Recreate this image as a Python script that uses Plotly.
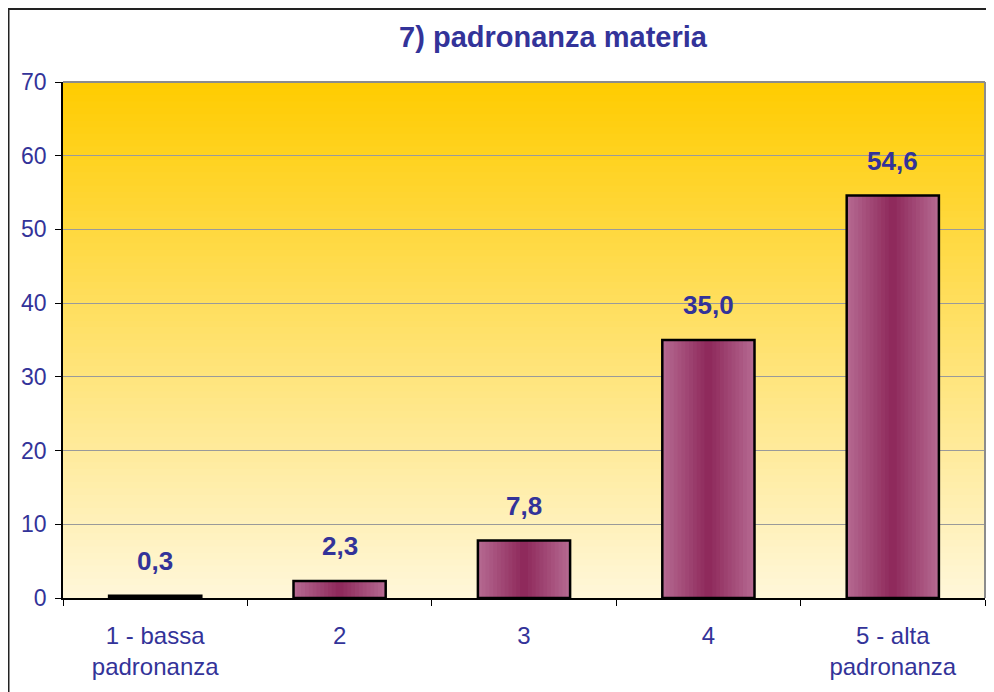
import plotly.graph_objects as go

categories = ["1 - bassa<br>padronanza", "2", "3", "4", "5 - alta<br>padronanza"]
values = [0.3, 2.3, 7.8, 35.0, 54.6]
y_ticks = [0, 10, 20, 30, 40, 50, 60, 70]
title_text = "7) padronanza materia"

TEXT = "#333399"
FONT = "Liberation Sans, Arial, sans-serif"
# page has an 8px body margin, so the figure is sized/positioned to compensate
W, H = 986, 684
L, R, T, B = 55, 9, 74, 94
PW, PH = W - L - R, H - T - B


def lerp(c1, c2, t):
    return "rgb(%d,%d,%d)" % tuple(round(a + (b - a) * t) for a, b in zip(c1, c2))


def px_x(px):
    return (px - L) / PW


def px_y(py):
    return (H - B - py) / PH


fig = go.Figure()

# cylinder-like horizontal gradient on bars: stacked overlay layers
light = (180, 104, 144)
dark = (143, 42, 92)
N = 12
bar_w = 0.5
for k in range(N):
    t = k / (N - 1)
    fig.add_trace(go.Bar(
        x=categories, y=values,
        width=bar_w * (1 - k / N),
        marker=dict(color=lerp(light, dark, t), line=dict(width=0)),
        hoverinfo="skip", showlegend=False,
    ))
# outline
fig.add_trace(go.Bar(
    x=categories, y=values, width=bar_w,
    marker=dict(color="rgba(0,0,0,0)", line=dict(color="black", width=2.5)),
    hoverinfo="skip", showlegend=False,
))

# value labels
for i, v in enumerate(values):
    fig.add_annotation(
        x=i, y=v, text=f"{v:.1f}".replace(".", ","),
        showarrow=False, yanchor="bottom", yshift=18,
        font=dict(family=FONT, size=26, color=TEXT, weight="bold"),
    )

# background gradient (bottom cream -> top gold)
shapes = []
bottom = (255, 247, 218)
top = (255, 204, 0)
S = 80
for i in range(S):
    shapes.append(dict(
        type="rect", xref="paper", yref="paper",
        x0=0, x1=1, y0=i / S, y1=(i + 1) / S + 0.002,
        fillcolor=lerp(bottom, top, (i + 0.5) / S),
        line=dict(width=0), layer="below",
    ))
# plot area right/top border (gray)
shapes.append(dict(type="line", xref="paper", yref="paper", x0=1, x1=1, y0=0, y1=1,
                   line=dict(color="#8C8C8C", width=2), layer="above"))
shapes.append(dict(type="line", xref="paper", yref="paper", x0=0, x1=1, y0=1, y1=1,
                   line=dict(color="#8C8C8C", width=2), layer="above"))
# outer chart border
shapes.append(dict(type="rect", xref="paper", yref="paper",
                   x0=px_x(0.5), x1=px_x(W + 20),
                   y0=px_y(H + 20), y1=px_y(1),
                   line=dict(color="#222222", width=2), fillcolor="rgba(0,0,0,0)",
                   layer="above"))

fig.update_layout(
    width=W, height=H,
    margin=dict(l=L, r=R, t=T, b=B, autoexpand=False),
    paper_bgcolor="white", plot_bgcolor="rgba(0,0,0,0)",
    barmode="overlay", bargap=0.5,
    shapes=shapes,
    title=dict(text=title_text, x=545 / W, xref="container", xanchor="center",
               y=1 - 29 / H, yref="container", yanchor="middle", automargin=False,
               font=dict(family=FONT, size=29, color=TEXT, weight="bold")),
    font=dict(family=FONT, color=TEXT),
    showlegend=False,
)
fig.update_yaxes(
    range=[0, 70], tickvals=y_ticks, ticks="outside", ticklen=6, tickcolor="black",
    showline=True, linecolor="black", linewidth=1.5,
    showgrid=True, gridcolor="#9A9A9A", gridwidth=1,
    tickfont=dict(family=FONT, size=23, color=TEXT),
    ticklabelstandoff=4, zeroline=False, fixedrange=True, automargin=False,
)
fig.update_xaxes(
    ticks="outside", ticklen=6, tickcolor="black", tickson="boundaries",
    showline=True, linecolor="black", linewidth=1.5,
    tickfont=dict(family=FONT, size=24, color=TEXT),
    ticklabelstandoff=15, fixedrange=True, automargin=False,
)

fig.write_html("out.html")
